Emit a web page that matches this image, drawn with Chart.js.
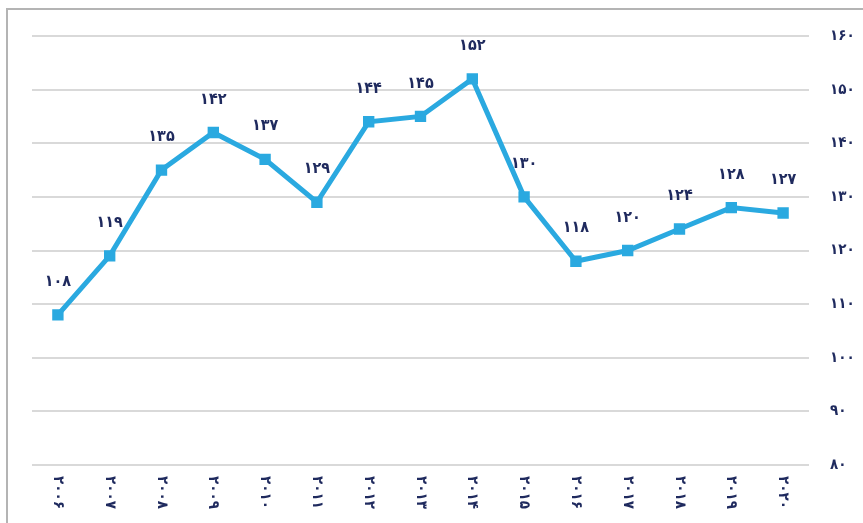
<!DOCTYPE html>
<html>
<head>
<meta charset="utf-8">
<script src="https://cdn.jsdelivr.net/npm/chart.js@4"></script>
<style>
  html, body { margin: 0; padding: 0; background: #fff; }
  #wrap { position: relative; width: 863px; height: 523px; }
  #frame { position: absolute; left: 6px; top: 8px; right: 0; bottom: 0;
           border-left: 2px solid #b4b4b4; border-top: 2px solid #b4b4b4; pointer-events: none; }
</style>
</head>
<body>
<div id="wrap">
  <canvas id="chart" width="863" height="523"></canvas>
  <div id="frame"></div>
</div>
<script>
const years = [2006, 2007, 2008, 2009, 2010, 2011, 2012, 2013, 2014, 2015, 2016, 2017, 2018, 2019, 2020];
const values = [108, 119, 135, 142, 137, 129, 144, 145, 152, 130, 118, 120, 124, 128, 127];
const yTicks = [80, 90, 100, 110, 120, 130, 140, 150, 160];

const faDigits = "۰۱۲۳۴۵۶۷۸۹";
function toFa(n) {
  return String(n).replace(/\d/g, d => faDigits[d]);
}

const fontFamily = "'DejaVu Sans Condensed', 'DejaVu Sans'";
const textColor = "#1f2a5e";

// values drawn above each point
const pointLabels = {
  id: "pointLabels",
  afterDatasetsDraw(chart) {
    const ctx = chart.ctx;
    const meta = chart.getDatasetMeta(0);
    ctx.save();
    ctx.font = "bold 16px " + fontFamily;
    ctx.fillStyle = textColor;
    ctx.textAlign = "center";
    ctx.textBaseline = "middle";
    meta.data.forEach((pt, i) => {
      ctx.fillText(toFa(values[i]), pt.x, pt.y - 33);
    });
    ctx.restore();
  }
};

// year labels turned clockwise under the axis
const yearLabels = {
  id: "yearLabels",
  afterDraw(chart) {
    const ctx = chart.ctx;
    const xs = chart.scales.x;
    ctx.save();
    ctx.font = "bold 15px " + fontFamily;
    ctx.fillStyle = textColor;
    ctx.textAlign = "left";
    ctx.textBaseline = "middle";
    years.forEach((yr, i) => {
      ctx.save();
      ctx.translate(xs.getPixelForTick(i), chart.chartArea.bottom + 11);
      ctx.rotate(Math.PI / 2);
      ctx.fillText(toFa(yr), 0, 0);
      ctx.restore();
    });
    ctx.restore();
  }
};

new Chart(document.getElementById("chart"), {
  type: "line",
  data: {
    labels: years.map(String),
    datasets: [{
      data: values,
      borderColor: "#2aa9e0",
      backgroundColor: "#2aa9e0",
      borderWidth: 5,
      pointStyle: "rect",
      pointRadius: 4.5,
      pointHoverRadius: 4.5,
      tension: 0
    }]
  },
  options: {
    responsive: false,
    animation: false,
    layout: { padding: { top: 36, right: 0, bottom: 50, left: 32 } },
    plugins: {
      legend: { display: false },
      tooltip: { enabled: false }
    },
    scales: {
      x: {
        offset: true,
        grid: { display: false },
        border: { display: false },
        ticks: { display: false }
      },
      y: {
        position: "right",
        min: 80,
        max: 160,
        afterBuildTicks(scale) {
          scale.ticks = yTicks.map(v => ({ value: v }));
        },
        afterFit(scale) {
          scale.width = 54;
          scale.paddingTop = 0;
          scale.paddingBottom = 0;
        },
        grid: { color: "#d9d9d9", lineWidth: 2, drawTicks: false },
        border: { display: false },
        ticks: {
          padding: 21,
          color: textColor,
          font: { family: "DejaVu Sans Condensed", size: 15, weight: "bold" },
          callback: v => toFa(v)
        }
      }
    }
  },
  plugins: [pointLabels, yearLabels]
});
</script>
</body>
</html>
